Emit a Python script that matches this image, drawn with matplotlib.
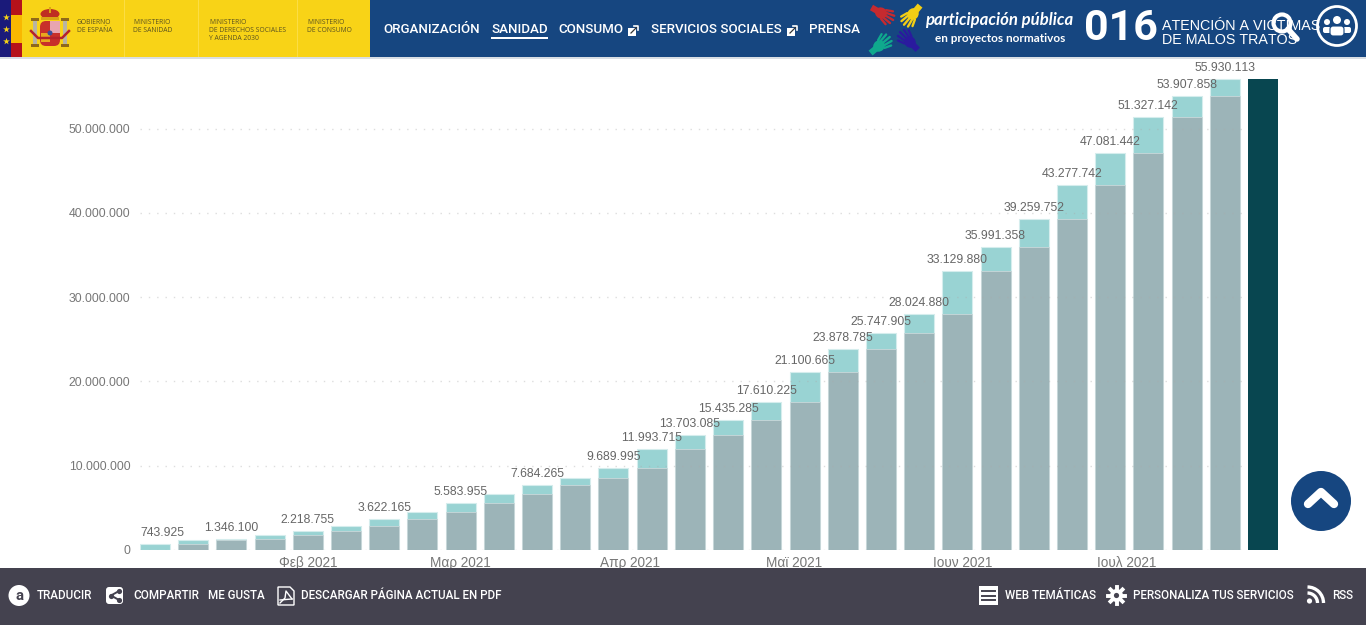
import numpy as np
import pandas as pd
import matplotlib
matplotlib.use('Agg')
import matplotlib.pyplot as plt
from matplotlib.patches import Rectangle, Circle, Ellipse, Polygon, FancyBboxPatch, Arc
from matplotlib.ticker import FixedLocator, FixedFormatter, FuncFormatter

# Weekly cumulative doses, one bar per week
week_start = '2021-01-04'
totals = [743925, 1180000, 1346100, 1800000, 2218755, 2900000, 3622165, 4550000,
          5583955, 6700000, 7684265, 8550000, 9689995, 11993715, 13703085,
          15435285, 17610225, 21100665, 23878785, 25747905, 28024880, 33129880,
          35991358, 39259752, 43277742, 47081442, 51327142, 53907858, 55930113]
last_total = 55930113
labelled = [0, 2, 4, 6, 8, 10, 12, 13, 14, 15, 16, 17, 18, 19, 20, 21, 22, 23,
            24, 25, 26, 27, 28]
month_ticks = ['2021-02-01', '2021-03-01', '2021-04-01', '2021-05-01', '2021-06-01', '2021-07-01']
month_labels = ['Φεβ 2021', 'Μαρ 2021', 'Απρ 2021', 'Μαϊ 2021', 'Ιουν 2021', 'Ιουλ 2021']
y_ticks = [0, 10000000, 20000000, 30000000, 40000000, 50000000]

nav_items = [('ORGANIZACIÓN', 383), ('SANIDAD', 491), ('CONSUMO', 558),
             ('SERVICIOS SOCIALES', 651), ('PRENSA', 809)]
footer_left = [('TRADUCIR', 37), ('COMPARTIR', 133), ('ME GUSTA', 208),
               ('DESCARGAR PÁGINA ACTUAL EN PDF', 301)]
footer_right = [('WEB TEMÁTICAS', 1005), ('PERSONALIZA TUS SERVICIOS', 1133), ('RSS', 1332)]

W, H = 1366, 625
BLUE = '#164680'
YELLOW = '#F8D317'
FOOT = '#44424F'
TEAL = '#99D3D3'
GRAY = '#9CB4B8'
DARK = '#084650'

plt.rcParams['font.family'] = ['Liberation Sans', 'DejaVu Sans']
plt.rcParams['text.kerning_factor'] = 10  # browser text here has no kerned digits
fig = plt.figure(figsize=(W/100, H/100), dpi=100, facecolor='white')


def dot_fmt(v, pos=None):
    return f'{int(v):,}'.replace(',', '.')


# --- chart, placed so that the axes sit on the same pixels as the page
x0, x1, y_zero, y_top = 140, 1278, 550, 78
ax = fig.add_axes([x0/W, (H-y_zero)/H, (x1-x0)/W, (y_zero-y_top)/H])

dates = pd.date_range(week_start, periods=len(totals)+1, freq='7D')
all_totals = np.array(totals + [last_total])
previous = np.array([0] + totals[:-1])
xs = matplotlib.dates.date2num(dates)
bar_w = 5.5

ax.bar(xs[:-1], totals, width=bar_w, color=TEAL, edgecolor='#D5EDED', linewidth=0.8, zorder=2)
ax.bar(xs[:-1], previous, width=bar_w, color=GRAY, edgecolor='#C9D8DA', linewidth=0.6, zorder=2.2)
ax.bar(xs[-1:], all_totals[-1:], width=bar_w, color=DARK, zorder=4)

for i in labelled:
    # the first label is pushed right to stay inside the plot
    dx = 7*0.72 if i == 0 else 0
    ax.annotate(dot_fmt(totals[i]), (xs[i], totals[i]), xytext=(dx, 11*0.72), textcoords='offset points',
                ha='center', va='center', fontsize=8.8, color='#666666', zorder=5, annotation_clip=False)

ax.set_xlim(xs[0]-bar_w/2, xs[-1]+bar_w/2)
ax.set_ylim(0, 56000000)
ax.yaxis.set_major_locator(FixedLocator(y_ticks))
ax.yaxis.set_major_formatter(FuncFormatter(dot_fmt))
ax.xaxis.set_major_locator(FixedLocator(matplotlib.dates.date2num(pd.to_datetime(month_ticks))))
ax.xaxis.set_major_formatter(FixedFormatter(month_labels))
ax.tick_params(axis='y', length=0, pad=7, labelsize=8.8, labelcolor='#777777')
ax.tick_params(axis='x', length=0, pad=4, labelsize=9.8, labelcolor='#777777')
ax.grid(True, axis='y', linestyle=(0, (1, 5)), color='#AAAAAA', linewidth=1, alpha=0.4)
ax.set_axisbelow(False)
for s in ax.spines.values():
    s.set_visible(False)
ax.patch.set_alpha(0)

# --- page around the chart, in pixel coordinates
pg = fig.add_axes([0, 0, 1, 1], zorder=10)
pg.set_xlim(0, W)
pg.set_ylim(H, 0)
pg.axis('off')
pg.patch.set_alpha(0)


def rect(x, y, w, h, c, **kw):
    pg.add_patch(Rectangle((x, y), w, h, facecolor=c, edgecolor=kw.pop('ec', 'none'), **kw))


def txt(x, y, s, px, c='white', **kw):
    kw.setdefault('family', ['Roboto', 'DejaVu Sans'])
    kw.setdefault('va', 'center')
    pg.text(x, y, s, fontsize=px*0.72, color=c, **kw)


def hand(cx, cy, ang, c):
    # palm with five fingers, fingers pointing along ang
    a = np.deg2rad(ang)
    pg.add_patch(Ellipse((cx, cy), 12, 11, angle=ang, color=c, lw=0))
    for off, ln in zip([-5, -2.5, 0, 2.5, 5], [7, 10, 11, 10, 7]):
        sx = cx + np.cos(a)*3 - np.sin(a)*off
        sy = cy + np.sin(a)*3 + np.cos(a)*off
        pg.plot([sx, sx+np.cos(a+off*0.07)*ln], [sy, sy+np.sin(a+off*0.07)*ln], color=c, lw=1.7,
                solid_capstyle='round')
    pg.plot([cx, cx-np.cos(a)*11], [cy, cy-np.sin(a)*11], color=c, lw=4.5, solid_capstyle='butt')


def ext_icon(x, y):
    rect(x-5, y-3, 8, 8, 'white')
    pg.plot([x-2, x+5], [y+2, y-5], color='#333333', lw=0.9)
    pg.plot([x+1, x+5, x+5], [y-5, y-5, y-1], color='white', lw=1.2)


# header
rect(0, 0, W, 57, BLUE)
rect(0, 57, W, 2, '#D9DEE4')
rect(0, 0, 11, 57, '#1A1A7A')
rect(11, 0, 359, 57, YELLOW)
rect(11, 0, 11, 15, '#B5121B')
rect(11, 43, 11, 14, '#B5121B')
rect(11, 15, 11, 28, '#F9B800')
pg.scatter([5.5, 5.5, 5.5], [17, 29, 41], marker='*', s=26, color=YELLOW, lw=0, zorder=3)
for sx in [124, 198, 297]:
    rect(sx, 0, 1, 57, '#FBDD45')

# coat of arms
pg.add_patch(FancyBboxPatch((40, 21), 20, 25, boxstyle='round,pad=0,rounding_size=6', fc='#C8302A', ec='none'))
rect(50, 21, 10, 12, '#E8A5B0')
rect(41, 33, 9, 9, '#E9A91D')
pg.add_patch(Circle((50, 33), 2.5, color='#3A4E9A', lw=0))
pg.add_patch(Ellipse((50, 14), 19, 10, color='#BF2E22', lw=0))
rect(41, 17, 18, 3, '#D9A514')
rect(49, 7, 2, 6, '#D9A514')
for px_ in [35, 65]:
    rect(px_-2, 20, 4, 26, '#B9B4A0')
    rect(px_-4, 18, 8, 3, '#8F6A1A')
    rect(px_-4, 44, 8, 2.5, '#8F6A1A')
pg.plot([31, 38, 62, 69], [31, 38, 38, 31], color='#B5222B', lw=1.8)

logo_c = '#5B5320'
logo_font = ['Open Sans']
txt(77, 22, 'GOBIERNO', 6.8, logo_c, family=logo_font)
txt(77, 30, 'DE ESPAÑA', 6.8, logo_c, family=logo_font)
txt(133, 22, 'MINISTERIO', 6.8, logo_c, family=logo_font)
txt(133, 30, 'DE SANIDAD', 6.8, logo_c, family=logo_font)
txt(209, 22, 'MINISTERIO', 6.8, logo_c, family=logo_font)
txt(209, 30, 'DE DERECHOS SOCIALES', 6.8, logo_c, family=logo_font)
txt(209, 38, 'Y AGENDA 2030', 6.8, logo_c, family=logo_font)
txt(307, 22, 'MINISTERIO', 6.8, logo_c, family=logo_font)
txt(307, 30, 'DE CONSUMO', 6.8, logo_c, family=logo_font)

# navigation
for s, x in nav_items:
    txt(x, 29.5, s, 13.4, fontweight='medium')
rect(491, 37, 57, 2, 'white')
ext_icon(633, 31)
ext_icon(792, 31)

hand(881, 13, 30, '#C62A2F')
hand(913, 14, 130, '#F2CE15')
hand(879, 46, -40, '#0FA98D')
hand(910, 42, 225, '#2A1A9E')
txt(925, 20, 'participación pública', 16.7, fontweight='bold', fontstyle='italic', family=['Lato'])
txt(935, 38.5, 'en proyectos normativos', 11.7, fontweight='bold', family=['Lato'])
txt(1084, 28.5, '016', 43, fontweight='bold')
txt(1162, 25.5, 'ATENCIÓN A VICTIMAS', 14.3, family=['Liberation Sans'])
txt(1162, 39.5, 'DE MALOS TRATOS', 14.3, family=['Liberation Sans'])

# search and users icons
pg.add_patch(Circle((1282, 23), 8.5, fc='none', ec='white', lw=3))
pg.plot([1288, 1297], [29, 39], color='white', lw=4, solid_capstyle='round')
pg.add_patch(Circle((1337, 26), 19.5, fc=BLUE, ec='white', lw=2))
for cx, cy, r in [(1327, 22, 3), (1347, 22, 3), (1337, 20, 4)]:
    pg.add_patch(Circle((cx, cy), r, color='white', lw=0))
for bx, bw in [(1323, 8), (1343, 8)]:
    pg.add_patch(FancyBboxPatch((bx, 27), bw, 6, boxstyle='round,pad=0,rounding_size=2', fc='white', ec='none'))
pg.add_patch(FancyBboxPatch((1330, 26), 14, 10, boxstyle='round,pad=0,rounding_size=3', fc='white', ec=BLUE, lw=0.8))

# back to top
pg.add_patch(Circle((1321, 501), 30, color=BLUE, lw=0))
pg.plot([1308, 1321, 1334], [504, 492, 504], color='white', lw=6, solid_capstyle='round', solid_joinstyle='round')

# footer
rect(0, 568, W, 57, FOOT)
for s, x in footer_left + footer_right:
    txt(x, 595.5, s, 11.6, fontweight='medium')

pg.add_patch(Circle((19, 595.5), 10.5, color='white', lw=0))
txt(19, 595.5, 'a', 15, FOOT, ha='center', fontweight='bold')
pg.add_patch(FancyBboxPatch((106, 587), 17, 17, boxstyle='round,pad=0,rounding_size=3', fc='white', ec='none'))
pg.plot([119, 111, 119], [591, 595.5, 600], color=FOOT, lw=1.4)
pg.scatter([119, 111, 119], [591, 595.5, 600], s=14, color=FOOT, lw=0, zorder=3)
pg.add_patch(Polygon([(278, 587), (290, 587), (294, 591), (294, 605), (278, 605)], fc='none', ec='white', lw=1))
pg.plot([280, 285, 286, 292], [603, 598, 591, 599], color='white', lw=1)
pg.plot([280, 292], [600, 599], color='white', lw=1)

rect(979, 586, 19, 19, 'white')
for ly, lx in [(591, 985), (595.5, 982), (600, 982)]:
    pg.plot([lx, 995], [ly, ly], color=FOOT, lw=1.4)
pg.plot([981.5, 983], [591, 591], color=FOOT, lw=1.4)
for a in np.arange(0, 360, 45):
    ra = np.deg2rad(a)
    pg.plot([1116.5, 1116.5+np.cos(ra)*8.5], [595.5, 595.5+np.sin(ra)*8.5], color='white', lw=2.8)
pg.add_patch(Circle((1116.5, 595.5), 6.5, color='white', lw=0, zorder=3))
pg.add_patch(Circle((1116.5, 595.5), 2.6, color=FOOT, lw=0, zorder=4))
pg.add_patch(Circle((1309.5, 601), 2.6, color='white', lw=0))
pg.add_patch(Arc((1307.5, 603), 20, 20, theta1=270, theta2=360, color='white', lw=2.4))
pg.add_patch(Arc((1307.5, 603), 32, 32, theta1=270, theta2=360, color='white', lw=2.4))

fig.savefig('out.png', dpi=100)
